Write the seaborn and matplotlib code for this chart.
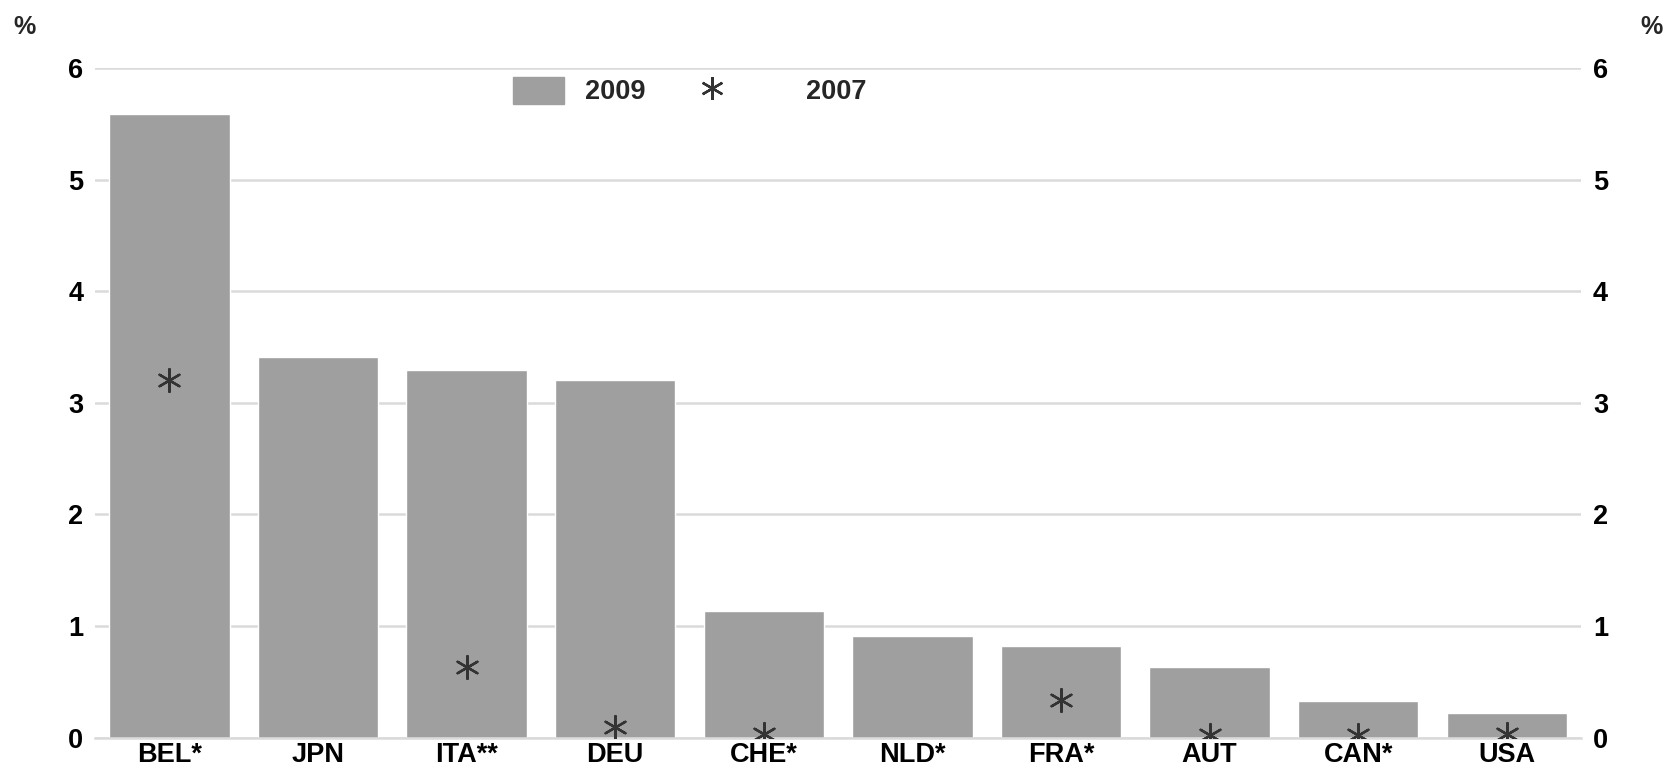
import matplotlib
matplotlib.use("Agg")
import matplotlib.pyplot as plt
import seaborn as sns
import numpy as np
import pandas as pd
from matplotlib.patches import Patch
from matplotlib.lines import Line2D

countries = ["BEL*", "JPN", "ITA**", "DEU", "CHE*", "NLD*", "FRA*", "AUT", "CAN*", "USA"]
values_2009 = [5.59, 3.41, 3.29, 3.20, 1.13, 0.91, 0.82, 0.63, 0.33, 0.22]
values_2007 = [3.20, np.nan, 0.63, 0.09, 0.03, np.nan, 0.34, 0.02, 0.02, 0.03]
yticks = [0, 1, 2, 3, 4, 5, 6]

BAR = "#9f9f9f"
STAR = "#333333"
GRID = "#dadada"
FS = 19.5
STAR_MARK = (6, 2, 0)

sns.set_theme(style="white")
plt.rcParams['font.family'] = ['Liberation Sans', 'DejaVu Sans']
plt.rcParams['font.weight'] = 'bold'

df = pd.DataFrame({"country": countries, "v2009": values_2009, "v2007": values_2007})

fig = plt.figure(figsize=(16.65, 7.7), dpi=100)
ax = fig.add_axes([0.0571, 0.0422, 0.8925, 0.8695])

sns.barplot(data=df, x="country", y="v2009", color=BAR, saturation=1,
            width=0.81, ax=ax, zorder=2)
sns.scatterplot(data=df, x="country", y="v2007", marker=STAR_MARK, s=270,
                color=STAR, edgecolor=STAR, linewidth=1.7, ax=ax, zorder=3)

ax.set_xlim(-0.5, len(countries) - 0.5)
ax.set_ylim(0, 6)
ax.set_yticks(yticks)
ax.yaxis.grid(True, color=GRID, linewidth=1.8, zorder=0)
ax.set_axisbelow(True)
for s in ["top", "right", "left"]:
    ax.spines[s].set_visible(False)
ax.spines["bottom"].set_color(GRID)
ax.spines["bottom"].set_linewidth(1.8)
ax.set_xlabel("")
ax.set_ylabel("")
ax.tick_params(axis="both", length=0, labelsize=FS, labelcolor="black")
ax.tick_params(axis="y", pad=8.5)
ax.tick_params(axis="x", pad=3)
for lab in ax.get_xticklabels() + ax.get_yticklabels():
    lab.set_fontweight("bold")

ax2 = ax.twinx()
ax2.set_ylim(0, 6)
ax2.set_yticks(yticks)
for s in ["top", "right", "left", "bottom"]:
    ax2.spines[s].set_visible(False)
ax2.tick_params(axis="y", length=0, labelsize=FS, pad=8.5, labelcolor="black")
for lab in ax2.get_yticklabels():
    lab.set_fontweight("bold")

fig.text(0.0078, 0.965, "%", fontsize=18, fontweight="bold", ha="left", va="center")
fig.text(0.9985, 0.965, "%", fontsize=18, fontweight="bold", ha="right", va="center")

leg1 = ax.legend([Patch(facecolor=BAR, edgecolor=BAR)], ["2009"],
                 loc="center left", bbox_to_anchor=(0.2813, 0.9657),
                 frameon=False, fontsize=FS, borderpad=0, borderaxespad=0,
                 handlelength=1.89, handleheight=1.18, handletextpad=0.78)
for t in leg1.get_texts():
    t.set_fontweight("bold")
ax.add_artist(leg1)

leg2 = ax.legend([Line2D([], [], marker=STAR_MARK, linestyle="none", markersize=16.4,
                         color=STAR, markeredgewidth=1.7)], ["2007"],
                 loc="center left", bbox_to_anchor=(0.3668, 0.9657),
                 frameon=False, fontsize=FS, borderpad=0, borderaxespad=0,
                 handlelength=5.33, handleheight=1.18, handletextpad=0.78)
for t in leg2.get_texts():
    t.set_fontweight("bold")

fig.savefig("out.png", dpi=100)
